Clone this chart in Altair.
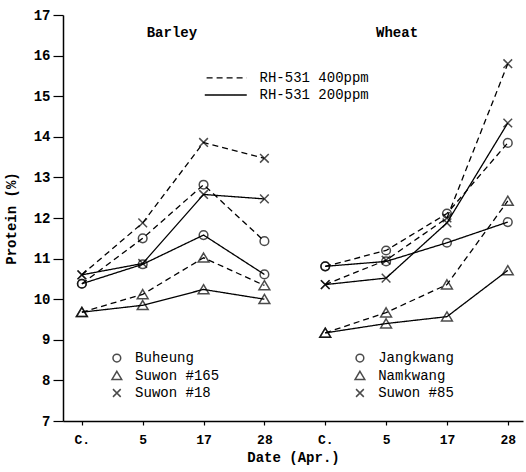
import altair as alt
import pandas as pd

dates = ["C.", "5", "17", "28"]
barley_vars = ["Buheung", "Suwon #165", "Suwon #18"]
wheat_vars = ["Jangkwang", "Namkwang", "Suwon #85"]
markers = ["circle", "triangle", "x"]

barley_400 = [[10.38, 11.50, 12.82, 11.43],
              [9.68, 10.12, 11.02, 10.34],
              [10.60, 11.88, 13.86, 13.47]]
barley_200 = [[10.38, 10.86, 11.58, 10.61],
              [9.68, 9.85, 10.24, 10.00],
              [10.60, 10.88, 12.58, 12.47]]
wheat_400 = [[10.81, 11.20, 12.11, 13.85],
             [9.17, 9.67, 10.36, 12.42],
             [10.36, 10.96, 12.00, 15.80]]
wheat_200 = [[10.81, 10.93, 11.39, 11.90],
             [9.17, 9.40, 9.57, 10.71],
             [10.36, 10.52, 11.88, 14.34]]

rows = []
for crop, offset, varieties, v400, v200 in [
    ("Barley", 0, barley_vars, barley_400, barley_200),
    ("Wheat", 4, wheat_vars, wheat_400, wheat_200),
]:
    for i, var in enumerate(varieties):
        for dose, vals in [("400", v400[i]), ("200", v200[i])]:
            for j, v in enumerate(vals):
                rows.append({"pos": offset + j, "protein": v, "variety": var,
                             "dose": dose, "marker": markers[i],
                             "series": f"{crop}-{var}-{dose}"})
df = pd.DataFrame(rows)

xscale = alt.Scale(domain=[-0.31, 7.25], nice=False, zero=False)
yscale = alt.Scale(domain=[7, 17], nice=False, zero=False)
FONT = "Liberation Mono"

shape_scale = alt.Scale(domain=["circle", "triangle", "x"],
                        range=["circle", "M0,-1.1L1.25,1L-1.25,1Z", "M-1,-1L1,1M-1,1L1,-1"])
dash_scale = alt.Scale(domain=["400", "200"], range=[[6, 4], [1, 0]])

lines = alt.Chart(df).mark_line(color="black", strokeWidth=1.3).encode(
    x=alt.X("pos:Q", scale=xscale,
            axis=alt.Axis(values=list(range(8)),
                          labelExpr="['C.','5','17','28','C.','5','17','28'][datum.value]",
                          title="Date (Apr.)", tickSize=4, labelPadding=8,
                          titlePadding=4)),
    y=alt.Y("protein:Q", scale=yscale,
            axis=alt.Axis(values=list(range(7, 18)), title="Protein (%)",
                          tickSize=10, labelPadding=3, titlePadding=15)),
    strokeDash=alt.StrokeDash("dose:N", scale=dash_scale, legend=None),
    detail="series:N",
)

points = alt.Chart(df).mark_point(color="black", filled=False, strokeWidth=1.5,
                                  size=75).encode(
    x=alt.X("pos:Q", scale=xscale),
    y=alt.Y("protein:Q", scale=yscale),
    shape=alt.Shape("marker:N", scale=shape_scale, legend=None),
)

# annotations
crop_titles = pd.DataFrame({"pos": [1.48, 5.18], "protein": [16.56, 16.56],
                            "label": ["Barley", "Wheat"]})
titles = alt.Chart(crop_titles).mark_text(font=FONT, fontSize=14, fontWeight="bold",
                                          color="black").encode(
    x=alt.X("pos:Q", scale=xscale), y=alt.Y("protein:Q", scale=yscale), text="label:N")

dose_labels = ["RH-531 400ppm", "RH-531 200ppm"]
dose_key = pd.DataFrame({"x1": [2.05, 2.02], "x2": [2.71, 2.71], "tx": [2.92, 2.92],
                         "protein": [15.45, 15.03], "dose": ["400", "200"],
                         "label": dose_labels})
dose_lines = alt.Chart(dose_key).mark_rule(color="black", strokeWidth=1.3).encode(
    x=alt.X("x1:Q", scale=xscale), x2="x2:Q",
    y=alt.Y("protein:Q", scale=yscale),
    strokeDash=alt.StrokeDash("dose:N", scale=dash_scale, legend=None),
)
dose_text = alt.Chart(dose_key).mark_text(font=FONT, fontSize=14, align="left",
                                          color="black").encode(
    x=alt.X("tx:Q", scale=xscale), y=alt.Y("protein:Q", scale=yscale), text="label:N")

key_rows = []
for xm, varieties in [(0.575, barley_vars), (4.57, wheat_vars)]:
    for i, var in enumerate(varieties):
        key_rows.append({"pos": xm, "tpos": xm + 0.3, "protein": [8.55, 8.12, 7.69][i],
                         "marker": markers[i], "label": var})
key_df = pd.DataFrame(key_rows)
key_pts = alt.Chart(key_df).mark_point(color="black", filled=False, strokeWidth=1.5,
                                       size=60).encode(
    x=alt.X("pos:Q", scale=xscale), y=alt.Y("protein:Q", scale=yscale),
    shape=alt.Shape("marker:N", scale=shape_scale, legend=None))
key_txt = alt.Chart(key_df).mark_text(font=FONT, fontSize=14, align="left",
                                      color="black").encode(
    x=alt.X("tpos:Q", scale=xscale), y=alt.Y("protein:Q", scale=yscale),
    text="label:N")

chart = alt.layer(lines, points, titles, dose_lines, dose_text, key_pts, key_txt).properties(
    width=460, height=406,
    autosize=alt.AutoSizeParams(type="none"),
    padding={"left": 63, "top": 15, "right": 3, "bottom": 51},
).configure_view(stroke=None).configure_axis(
    grid=False, domainColor="black", domainWidth=1.5, tickColor="black",
    tickWidth=1.2, labelColor="black", titleColor="black",
    labelFont=FONT, titleFont=FONT, labelFontSize=13, titleFontSize=14,
    labelFontWeight="bold", titleFontWeight="bold",
).configure_axisY(labelFontSize=14)

chart.save("out.html", embed_options={"renderer": "svg", "actions": False})
